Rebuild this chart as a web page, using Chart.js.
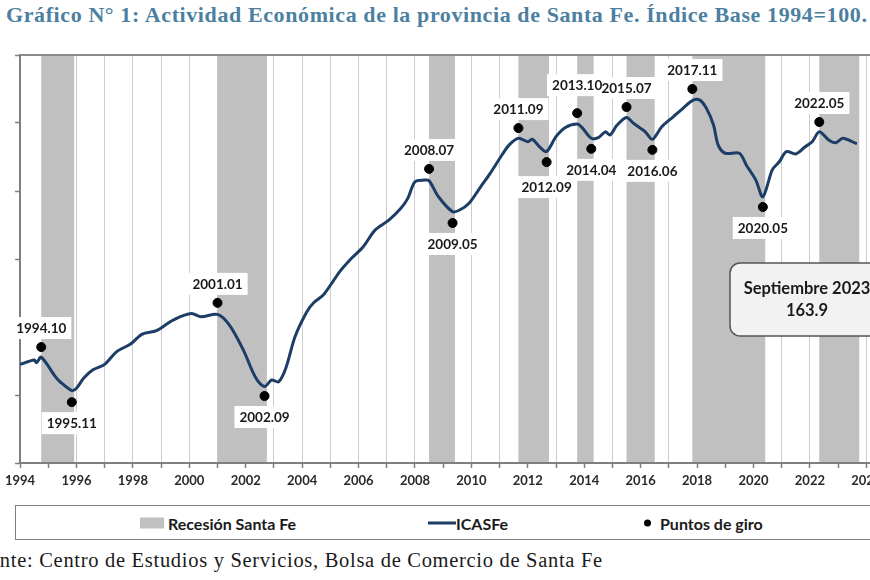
<!DOCTYPE html>
<html lang="es">
<head>
<meta charset="utf-8">
<title>Actividad Económica de la provincia de Santa Fe</title>
<script src="https://cdn.jsdelivr.net/npm/chart.js@4.4.0/dist/chart.umd.min.js"></script>
<style>
    html, body { margin: 0; padding: 0; background: #fff; }
    body { width: 870px; height: 580px; overflow: hidden; position: relative; }
    #titulo {
        position: absolute; left: 6px; top: 2px; white-space: nowrap;
        font-family: "Liberation Serif", serif; font-weight: bold; font-size: 22px;
        letter-spacing: 0.6px; color: #4d7fa1;
    }
    #caja { position: absolute; left: 0; top: 0; width: 900px; height: 500px; }
    #leyenda {
        position: absolute; left: 15px; top: 505px; width: 900px; height: 35px;
        border: 1.5px solid #7f7f7f; box-sizing: border-box;
    }
    .item {
        position: absolute; top: 50%; transform: translateY(-50%); white-space: nowrap;
        font-family: Lato, sans-serif; font-weight: bold; font-size: 16px; color: #1a1a1a;
    }
    #fuente {
        position: absolute; top: 549px; white-space: nowrap;
        font-family: "Liberation Serif", serif; font-size: 20.5px; letter-spacing: 0.7px;
        color: #1a1a1a;
    }
</style>
</head>
<body>
<div id="titulo">Gráfico N° 1: Actividad Económica de la provincia de Santa Fe. Índice Base 1994=100.</div>
<div id="caja"><canvas id="grafico" width="900" height="500"></canvas></div>
<div id="leyenda">
    <span class="item" style="left:124px;width:24px;height:11px;background:#c0c0c0;"></span>
    <span class="item" style="left:152px;">Recesión Santa Fe</span>
    <span class="item" style="left:412px;width:28px;height:3px;background:#1b3d66;"></span>
    <span class="item" style="left:440px;">ICASFe</span>
    <span class="item" style="left:628px;width:7px;height:7px;border-radius:50%;background:#000;"></span>
    <span class="item" style="left:644px;">Puntos de giro</span>
</div>
<div id="fuente"><span id="oculto">Fue</span>nte: Centro de Estudios y Servicios, Bolsa de Comercio de Santa Fe</div>

<script>
// ========================================
// Datos
// ========================================

// ICASFe mensual (año.mes)
const fechasICASFe = [
    '1994.01', '1994.07', '1994.08', '1994.10', '1995.04', '1995.06', '1995.11', '1996.01',
    '1996.04', '1996.08', '1997.01', '1997.06', '1997.12', '1998.05', '1998.11', '1999.05',
    '1999.09', '2000.02', '2000.06', '2001.01', '2001.06', '2001.12', '2002.05', '2002.09',
    '2002.12', '2003.03', '2003.06', '2003.10', '2004.03', '2004.06', '2004.10', '2005.02',
    '2005.05', '2005.10', '2006.03', '2006.08', '2007.02', '2007.07', '2007.10', '2008.01',
    '2008.05', '2008.07', '2008.11', '2009.05', '2009.08', '2009.12', '2010.05', '2010.09',
    '2011.02', '2011.05', '2011.09', '2012.01', '2012.03', '2012.06', '2012.09', '2013.01',
    '2013.05', '2013.10', '2013.12', '2014.04', '2014.07', '2014.10', '2014.12', '2015.03',
    '2015.07', '2015.10', '2016.03', '2016.06', '2016.10', '2017.03', '2017.07', '2017.11',
    '2018.02', '2018.05', '2018.08', '2018.10', '2019.01', '2019.07', '2019.10', '2020.02',
    '2020.05', '2020.09', '2020.12', '2021.03', '2021.07', '2021.11', '2022.02', '2022.05',
    '2022.09', '2022.12', '2023.03', '2023.09'
];
const valoresICASFe = [
    99.0, 100.3, 99.5, 101.1, 95.4, 93.9, 91.3, 92.0,
    94.9, 97.4, 99.0, 102.7, 105.0, 107.9, 108.9, 111.6,
    113.0, 114.0, 113.0, 113.7, 110.6, 103.2, 95.4, 92.5,
    94.4, 93.9, 97.8, 107.2, 114.5, 117.2, 119.4, 123.3,
    126.3, 130.2, 133.6, 138.5, 141.5, 144.9, 147.9, 152.7,
    153.2, 153.0, 148.3, 143.9, 144.4, 146.4, 151.3, 155.2,
    160.6, 163.5, 165.5, 164.5, 165.2, 163.0, 161.6, 166.0,
    168.7, 169.7, 168.7, 165.5, 165.7, 167.4, 166.5, 169.4,
    171.6, 169.9, 167.4, 165.2, 168.9, 171.9, 174.3, 176.6,
    176.8, 174.3, 169.4, 163.5, 161.1, 161.1, 157.6, 153.2,
    148.3, 156.2, 158.6, 161.6, 160.9, 163.0, 164.5, 167.4,
    165.0, 164.2, 165.5, 163.9
];

// Puntos de giro (picos y valles alternados)
const puntosGiro = [
    '1994.10', '1995.11', '2001.01', '2002.09', '2008.07', '2009.05', '2011.09', '2012.09',
    '2013.10', '2014.04', '2015.07', '2016.06', '2017.11', '2020.05', '2022.05'
];
const valoresGiro = [
    104.1, 87.9, 117.1, 89.7, 156.5, 140.6, 168.5, 158.5,
    172.9, 162.4, 174.7, 162.1, 180.0, 145.3, 170.3
];

// Recesiones: de pico a valle
const recesionInicio = ['1994.10', '2001.01', '2008.07', '2011.09', '2013.10', '2015.07', '2017.11', '2022.05'];
const recesionFin = ['1995.11', '2002.09', '2009.05', '2012.09', '2014.04', '2016.06', '2020.05', '2023.09'];

// Ejes
const ejeXMin = 1994;
const ejeXMax = 2025;
const ejeYMin = 70;
const ejeYMax = 190;
const ejeYPaso = 20;

const ultimoDato = ['Septiembre 2023', '163.9'];

// ========================================
// Funciones auxiliares
// ========================================

// '1994.10' -> año decimal
function aAnio(txt) {
    const partes = txt.split('.');
    return parseInt(partes[0]) + (parseInt(partes[1]) - 1) / 12;
}

// Ocultar "Fue" a la izquierda (recorte del original)
const fuente = document.getElementById('fuente');
fuente.style.left = -document.getElementById('oculto').offsetWidth + 'px';

const fuenteNegrita = 'bold 13.5px Lato, sans-serif';

// Bandas grises de recesión
const pluginBandas = {
    id: 'bandas',
    beforeDatasetsDraw(chart) {
        const { ctx, chartArea, scales } = chart;
        ctx.save();
        ctx.fillStyle = '#c0c0c0';
        recesionInicio.forEach((ini, i) => {
            const x1 = scales.x.getPixelForValue(aAnio(ini));
            const x2 = scales.x.getPixelForValue(aAnio(recesionFin[i]) + 1 / 12);
            ctx.fillRect(x1, chartArea.top + 1, x2 - x1, chartArea.bottom - chartArea.top - 2);
        });
        ctx.restore();
    }
};

// Etiquetas de los puntos de giro con fondo blanco
const pluginEtiquetas = {
    id: 'etiquetas',
    afterDatasetsDraw(chart) {
        const { ctx, scales } = chart;
        const ajustes = { '2012.09': 25, '2013.10': -28 };
        ctx.save();
        ctx.font = fuenteNegrita;
        ctx.textAlign = 'center';
        ctx.textBaseline = 'middle';
        const pos = puntosGiro.map((txt, i) => {
            const px = scales.x.getPixelForValue(aAnio(txt));
            const py = scales.y.getPixelForValue(valoresGiro[i]);
            let dy = (i % 2 === 0) ? -19 : 21;
            if (ajustes[txt] !== undefined) dy = ajustes[txt];
            return { txt, px, py: py + dy, w: ctx.measureText(txt).width + 10 };
        });
        // primero los fondos, después los textos
        ctx.fillStyle = '#ffffff';
        pos.forEach(p => ctx.fillRect(p.px - p.w / 2, p.py - 11, p.w, 22));
        ctx.fillStyle = '#1a1a1a';
        pos.forEach(p => ctx.fillText(p.txt, p.px, p.py + 1));
        ctx.restore();
    }
};

// Borde superior del área y recuadro del último dato
const pluginMarco = {
    id: 'marco',
    afterDraw(chart) {
        const { ctx, chartArea } = chart;
        ctx.save();
        ctx.strokeStyle = '#8a8a8a';
        ctx.lineWidth = 2;
        ctx.beginPath();
        ctx.moveTo(chartArea.left, chartArea.top);
        ctx.lineTo(chartArea.right, chartArea.top);
        ctx.stroke();

        // recuadro redondeado
        const bx = 730, by = 263, bw = 165, bh = 73, r = 10;
        ctx.beginPath();
        ctx.roundRect(bx, by, bw, bh, r);
        ctx.fillStyle = '#f2f2f2';
        ctx.fill();
        ctx.strokeStyle = '#555';
        ctx.lineWidth = 1.5;
        ctx.stroke();
        ctx.fillStyle = '#1a1a1a';
        ctx.font = 'bold 16.5px Lato, sans-serif';
        ctx.textAlign = 'center';
        ctx.textBaseline = 'middle';
        ctx.fillText(ultimoDato[0], 807, 289);
        ctx.fillText(ultimoDato[1], 807, 311);
        ctx.restore();
    }
};

new Chart(document.getElementById('grafico'), {
    type: 'scatter',
    data: {
        datasets: [
            {
                label: 'ICASFe',
                data: fechasICASFe.map((f, i) => ({ x: aAnio(f), y: valoresICASFe[i] })),
                showLine: true,
                borderColor: '#1b3d66',
                borderWidth: 3,
                pointRadius: 0,
                tension: 0.3,
                order: 2
            },
            {
                label: 'Puntos de giro',
                data: puntosGiro.map((f, i) => ({ x: aAnio(f), y: valoresGiro[i] })),
                showLine: false,
                backgroundColor: '#000',
                borderColor: '#000',
                pointRadius: 4.5,
                order: 1
            }
        ]
    },
    options: {
        responsive: false,
        animation: false,
        layout: { padding: { top: 55, right: 3, left: 0, bottom: 0 } },
        plugins: {
            legend: { display: false },
            tooltip: { enabled: false }
        },
        scales: {
            x: {
                type: 'linear',
                min: ejeXMin,
                max: ejeXMax,
                afterFit(s) { s.height = 37; },
                ticks: {
                    stepSize: 1,
                    autoSkip: false,
                    maxRotation: 0,
                    padding: 5,
                    color: '#2a2a2a',
                    font: { family: 'Lato, sans-serif', weight: 'bold', size: 13 },
                    callback: v => (v % 2 === 0 ? String(v) : '')
                },
                grid: {
                    color: '#cccccc',
                    lineWidth: 1,
                    borderDash: [2, 2],
                    tickBorderDash: [1, 0],
                    tickLength: 5,
                    tickColor: '#7f7f7f',
                    tickWidth: 1.5
                },
                border: { color: '#7f7f7f', width: 2 }
            },
            y: {
                min: ejeYMin,
                max: ejeYMax,
                afterFit(s) { s.width = 15; },
                ticks: { stepSize: ejeYPaso, display: false },
                grid: {
                    drawOnChartArea: false,
                    tickLength: 5,
                    tickColor: '#7f7f7f',
                    tickWidth: 1.5
                },
                border: { color: '#7f7f7f', width: 2 }
            }
        }
    },
    plugins: [pluginBandas, pluginEtiquetas, pluginMarco]
});
</script>
</body>
</html>
